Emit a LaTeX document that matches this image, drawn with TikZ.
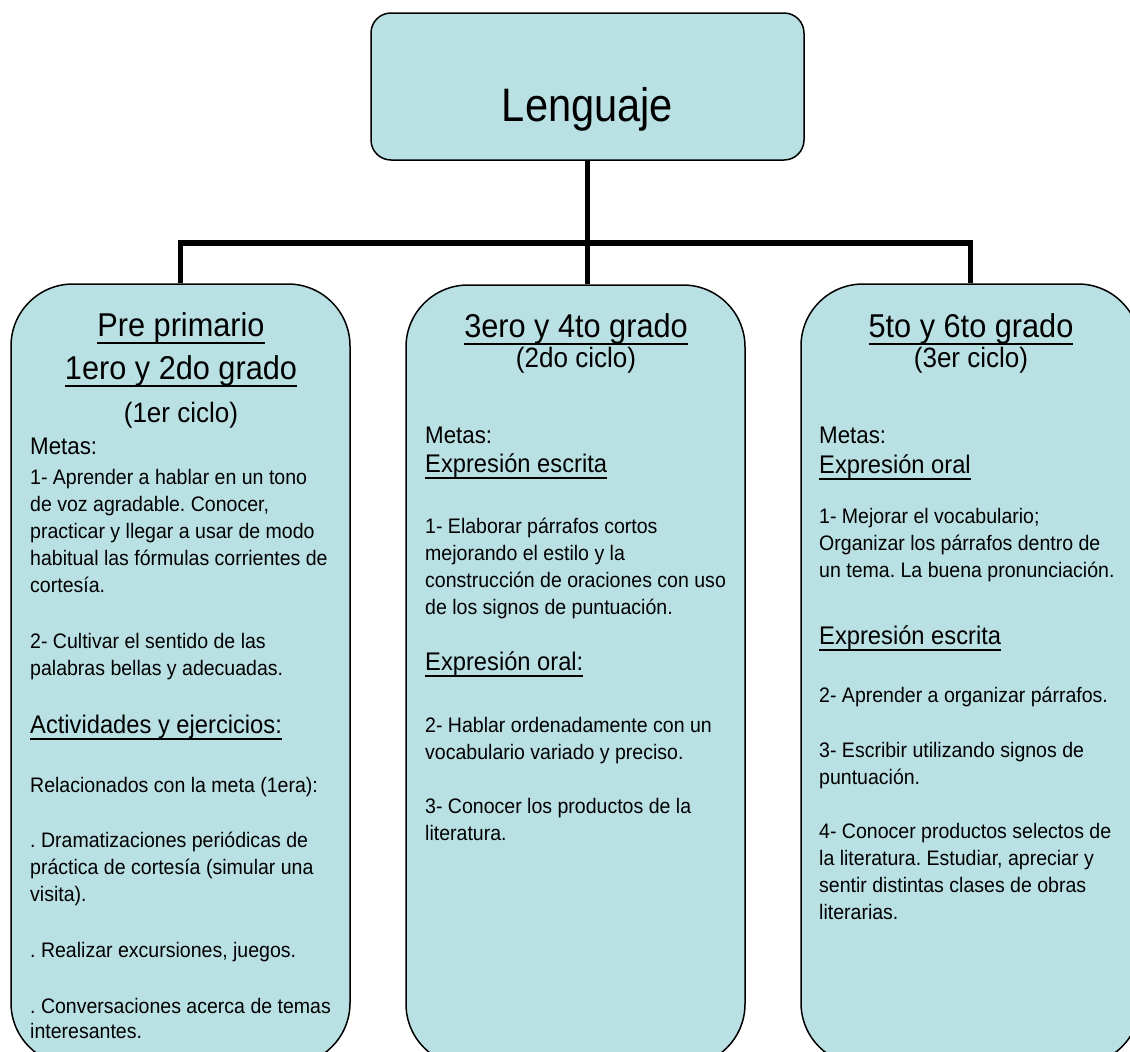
\documentclass[tikz,border=0pt]{standalone}
\usepackage{fontspec}
\setmainfont{Liberation Sans}[FakeStretch=0.93]
\newfontfamily\titlefont{Liberation Sans}[FakeStretch=0.885]
\definecolor{boxfill}{RGB}{185,224,227}
\newcommand\ulh[1]{\setbox0\hbox{#1}\rlap{\rule[-8pt]{\wd0}{2.4pt}}\box0}
\newcommand\uls[1]{\setbox0\hbox{#1}\rlap{\rule[-6.5pt]{\wd0}{2pt}}\box0}
\newcommand\ml[1]{\begin{tabular}[t]{@{}l@{}}#1\end{tabular}}
\newcommand\xbody{\fontsize{21}{27.2}\selectfont}
\newcommand\xhead{\fontsize{33}{43}\selectfont}
\newcommand\xcyc{\fontsize{28}{34}\selectfont}
\newcommand\xmeta{\fontsize{24}{27}\selectfont}
\newcommand\xsub{\fontsize{25.5}{27}\selectfont}
\newcommand\xtitle{\titlefont\fontsize{47}{52}\selectfont}
\begin{document}
\frenchspacing
\begin{tikzpicture}[x=1pt,y=-1pt,
  bigbox/.style={draw=black, line width=1.5pt, fill=boxfill, rounded corners=62pt,
    minimum width=339pt, minimum height=781pt, inner sep=0pt},
  topbox/.style={draw=black, line width=1.5pt, fill=boxfill, rounded corners=20pt,
    minimum width=433pt, minimum height=147pt, inner sep=0pt},
  conn/.style={line width=5.5pt},
  txt/.style={anchor=base west, inner sep=0pt, font=\xbody},
  ctr/.style={anchor=base, inner sep=0pt}]
\useasboundingbox (0,0) rectangle (1130,1052);
\clip (0,0) rectangle (1130,1052);

% boxes
\node[topbox] (top) at (587.5,86.5) {};
\node[bigbox] (b1) at (180.5,674.5) {};
\node[bigbox] (b2) at (575.5,675.5) {};
\node[bigbox] (b3) at (970.5,674.5) {};

% connectors
\coordinate (hl) at (0,243);
\draw[conn] (b1.north) -- (b1.north |- hl) -- (b3.north |- hl) -- (b3.north);
\draw[conn] (top.south) -- (top.south |- b2.north);

% title
\node[ctr, font=\xtitle] (tl) at (587.5,121) {Lenguaje};

% left box
\node[ctr, font=\xhead] (l1) at (181,336) {\ulh{Pre primario}};
\node[ctr, font=\xhead] (l2) at (181,379) {\ulh{1ero y 2do grado}};
\node[ctr, font=\xcyc] (l3) at (181,422) {(1er ciclo)};
\node[txt, font=\xmeta] (l4) at (30,454) {Metas:};
\node[txt] (l5) at (30,484) {\ml{1- Aprender a hablar en un tono\\de voz agradable. Conocer,\\practicar y llegar a usar de modo\\habitual las fórmulas corrientes de\\cortesía.}};
\node[txt] (l6) at (30,648) {\ml{2- Cultivar el sentido de las\\palabras bellas y adecuadas.}};
\node[txt, font=\xsub] (l7) at (30,733) {\uls{Actividades y ejercicios:}};
\node[txt] (l8) at (30,792) {Relacionados con la meta (1era):};
\node[txt] (l9) at (30,847) {\ml{. Dramatizaciones periódicas de\\práctica de cortesía (simular una\\visita).}};
\node[txt] (l10) at (30,957) {. Realizar excursiones, juegos.};
\node[txt] (l11) at (30,1013) {. Conversaciones acerca de temas};
\begin{scope}
\clip (0,0) rectangle (1130,1041);
\node[txt] (l12) at (30,1038) {interesantes.};
\end{scope}

% middle box
\node[ctr, font=\xhead] (m1) at (576,337) {\ulh{3ero y 4to grado}};
\node[ctr, font=\xcyc] (m2) at (576,367) {(2do ciclo)};
\node[txt, font=\xmeta] (m3) at (425,443) {Metas:};
\node[txt, font=\xsub] (m4) at (425,472) {\uls{Expresión escrita}};
\node[txt] (m5) at (425,533) {\ml{1- Elaborar párrafos cortos\\mejorando el estilo y la\\construcción de oraciones con uso\\de los signos de puntuación.}};
\node[txt, font=\xsub] (m6) at (425,670) {\uls{Expresión oral:}};
\node[txt] (m7) at (425,732) {\ml{2- Hablar ordenadamente con un\\vocabulario variado y preciso.}};
\node[txt] (m8) at (425,813) {\ml{3- Conocer los productos de la\\literatura.}};

% right box
\node[ctr, font=\xhead] (r1) at (971,337) {\ulh{5to y 6to grado}};
\node[ctr, font=\xcyc] (r2) at (971,367) {(3er ciclo)};
\node[txt, font=\xmeta] (r3) at (819,443) {Metas:};
\node[txt, font=\xsub] (r4) at (819,473) {\uls{Expresión oral}};
\node[txt] (r5) at (819,523) {\ml{1- Mejorar el vocabulario;\\Organizar los párrafos dentro de\\un tema. La buena pronunciación.}};
\node[txt, font=\xsub] (r6) at (819,644) {\uls{Expresión escrita}};
\node[txt] (r7) at (819,702) {2- Aprender a organizar párrafos.};
\node[txt] (r8) at (819,757) {\ml{3- Escribir utilizando signos de\\puntuación.}};
\node[txt] (r9) at (819,838) {\ml{4- Conocer productos selectos de\\la literatura. Estudiar, apreciar y\\sentir distintas clases de obras\\literarias.}};
\end{tikzpicture}
\end{document}
